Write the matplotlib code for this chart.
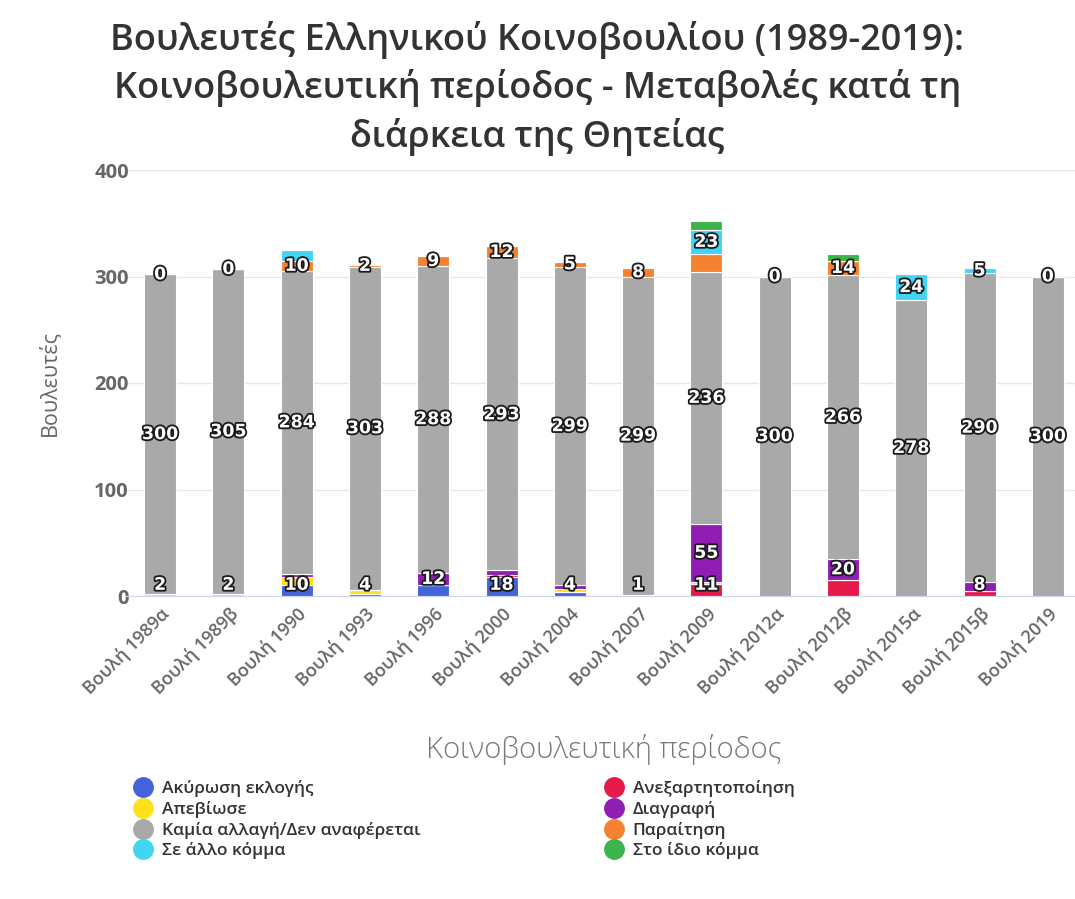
import numpy as np
import matplotlib
matplotlib.use("Agg")
import matplotlib.pyplot as plt
import matplotlib.patheffects as pe
from matplotlib.lines import Line2D

plt.rcParams['font.family'] = ['Open Sans', 'DejaVu Sans']

categories = ['Βουλή 1989α', 'Βουλή 1989β', 'Βουλή 1990', 'Βουλή 1993', 'Βουλή 1996',
              'Βουλή 2000', 'Βουλή 2004', 'Βουλή 2007', 'Βουλή 2009', 'Βουλή 2012α',
              'Βουλή 2012β', 'Βουλή 2015α', 'Βουλή 2015β', 'Βουλή 2019']
nan = np.nan
# stacked bottom -> top
akyrosi = [nan, nan, 10, 2, 10, 18, 4, nan, nan, nan, nan, nan, nan, nan]
anexartitopoiisi = [nan, nan, nan, nan, nan, 2, nan, nan, 11, nan, 15, nan, 5, nan]
apeviose = [2, 2, 8, 4, nan, nan, 3, 1, 2, nan, nan, nan, nan, nan]
diagrafi = [nan, nan, 3, nan, 12, 4, 3, nan, 55, nan, 20, nan, 8, nan]
kamia_allagi = [300, 305, 284, 303, 288, 293, 299, 299, 236, 300, 266, 278, 290, 300]
paraitisi = [0, 0, 10, 2, 9, 12, 5, 8, 17, 0, 14, nan, nan, 0]
allo_komma = [nan, nan, 10, nan, nan, nan, nan, nan, 23, nan, nan, 24, 5, nan]
idio_komma = [nan, nan, nan, nan, nan, nan, nan, nan, 8, nan, 6, nan, nan, nan]

series_names = ['Ακύρωση εκλογής', 'Ανεξαρτητοποίηση', 'Απεβίωσε', 'Διαγραφή',
                'Καμία αλλαγή/Δεν αναφέρεται', 'Παραίτηση', 'Σε άλλο κόμμα', 'Στο ίδιο κόμμα']
series_values = [akyrosi, anexartitopoiisi, apeviose, diagrafi, kamia_allagi,
                 paraitisi, allo_komma, idio_komma]
colors = ['#4363d8', '#e6194b', '#ffe119', '#911eb4', '#a9a9a9', '#f58231', '#42d4f4', '#3cb44b']

W, H = 1075, 899
fig = plt.figure(figsize=(W / 100, H / 100), dpi=100)
ax = fig.add_axes([126 / W, 1 - 596 / H, 956 / W, 426 / H])

x = np.arange(len(categories))
bottom = np.zeros(len(categories))
label_cands = [[] for _ in categories]
for si, (name, vals, col) in enumerate(zip(series_names, series_values, colors)):
    v = np.array(vals, dtype=float)
    h = np.nan_to_num(v)
    ax.bar(x, h, 0.47, bottom=bottom, color=col, edgecolor='white', linewidth=0.8,
           label=name, zorder=2)
    for i in range(len(categories)):
        if not np.isnan(v[i]):
            c = bottom[i] + h[i] / 2
            c = max(c, 10.5)
            label_cands[i].append((v[i], si, c))
    bottom = bottom + h

ax.set_ylim(0, 400)
ax.set_xlim(-0.5, len(categories) - 0.5)

# data labels, hiding overlapping ones (larger value wins)
thr = 21.5
for i, cands in enumerate(label_cands):
    cands.sort(key=lambda t: (-t[0], t[1]))
    kept = []
    for val, si, c in cands:
        if all(abs(c - k) >= thr for k in kept):
            kept.append(c)
            ax.text(x[i], c, f'{int(val)}', ha='center', va='center', fontsize=12.5,
                    fontweight='bold', color='white', zorder=5,
                    family=['DejaVu Sans'],
                    path_effects=[pe.withStroke(linewidth=2.6, foreground='#1a1a1a')])

ax.set_yticks([0, 100, 200, 300, 400])
ax.yaxis.grid(True, color='#e6e6e6', linewidth=1, zorder=0)
ax.set_axisbelow(True)
for s in ['top', 'right', 'left']:
    ax.spines[s].set_visible(False)
ax.spines['bottom'].set_color('#ccd6eb')
ax.tick_params(axis='y', length=0, labelsize=14.5, labelcolor='#666666', pad=-2)
ax.tick_params(axis='x', length=0, labelsize=13, labelcolor='#666666', pad=6)
for t in ax.get_yticklabels():
    t.set_fontweight('bold')
ax.set_xticks(x)
ax.set_xticklabels(categories, rotation=45, ha='right', rotation_mode='anchor', fontweight='semibold')

ax.set_ylabel('Βουλευτές', fontsize=15.5, color='#666666', labelpad=24)
ax.set_xlabel('Κοινοβουλευτική περίοδος', fontsize=21, color='#777777', labelpad=26,
              fontweight='light')

fig.text(0.5, 1 - 21 / H,
         'Βουλευτές Ελληνικού Κοινοβουλίου (1989-2019):\nΚοινοβουλευτική περίοδος - Μεταβολές κατά τη\nδιάρκεια της Θητείας',
         ha='center', va='top', fontsize=26, color='#333333', linespacing=1.36,
         fontweight='semibold')

handles = [Line2D([0], [0], marker='o', linestyle='none', markersize=14,
                  markerfacecolor=c, markeredgecolor=c) for c in colors]
col1 = [0, 2, 4, 6]
col2 = [1, 3, 5, 7]
leg_kw = dict(loc='upper left', frameon=False, fontsize=12.5, handletextpad=0.5,
              labelspacing=0.22, borderaxespad=0, handlelength=1.1)
leg1 = fig.legend([handles[i] for i in col1], [series_names[i] for i in col1],
                  bbox_to_anchor=(127 / W, 1 - 773 / H), **leg_kw)
leg2 = fig.legend([handles[i] for i in col2], [series_names[i] for i in col2],
                  bbox_to_anchor=(598 / W, 1 - 773 / H), **leg_kw)
for leg in (leg1, leg2):
    for t in leg.get_texts():
        t.set_color('#333333')
        t.set_fontweight('semibold')

fig.savefig('out.png', dpi=100, facecolor='white')
